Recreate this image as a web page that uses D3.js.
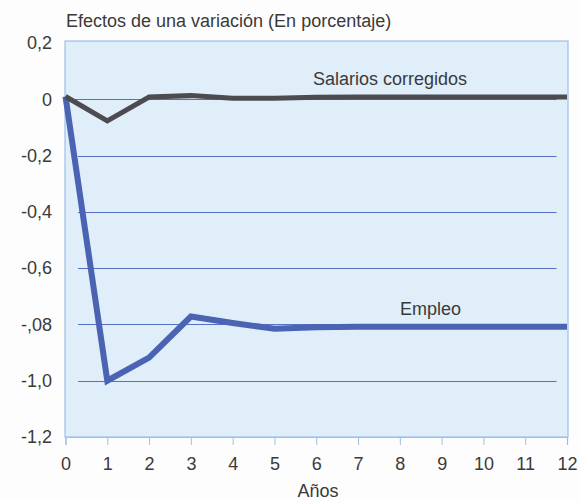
<!DOCTYPE html>
<html><head><meta charset="utf-8">
<script src="https://cdn.jsdelivr.net/npm/d3@7"></script>
<style>body{margin:0;background:#fdfdfd;} text{font-family:"Liberation Sans",Arial,sans-serif;fill:#3a3a3a;}</style>
</head><body><svg id="c" width="580" height="501"></svg>
<script>
const years = [0,1,2,3,4,5,6,7,8,9,10,11,12];
const salarios = [0.01,-0.077,0.008,0.013,0.004,0.004,0.007,0.008,0.008,0.008,0.008,0.008,0.008];
const empleo = [0.01,-1.0,-0.918,-0.772,-0.795,-0.815,-0.81,-0.808,-0.808,-0.808,-0.808,-0.808,-0.808];
const yTicks = [0.2,0,-0.2,-0.4,-0.6,-0.8,-1.0,-1.2];
const yTickLabels = ["0,2","0","-0,2","-0,4","-0,6","-,08","-1,0","-1,2"];
const gridVals = [0,-0.2,-0.4,-0.6,-0.8,-1.0];
const title = "Efectos de una variación (En porcentaje)";
const xTitle = "Años";

const svg = d3.select("#c");
const L=65,R=568,T=41,B=437;
const x = d3.scaleLinear().domain([0,12]).range([L+0.5,R-1]);
const y = d3.scaleLinear().domain([-1.2,0.2]).range([B,43]);

svg.append("rect").attr("x",L).attr("y",T).attr("width",R-L).attr("height",B-T)
  .attr("fill","#e0eefa").attr("stroke","#9cc0ea").attr("stroke-width",1.2);

// gridlines
svg.append("g").selectAll("line").data(gridVals).join("line")
  .attr("x1",d=>d===0?x(0.05):x(0.3)).attr("x2",x(11.75))
  .attr("y1",d=>Math.round(y(d))+0.5).attr("y2",d=>Math.round(y(d))+0.5)
  .attr("stroke","#5870c2").attr("stroke-width",1.1);

// x axis
const xa = svg.append("g").attr("transform",`translate(0,${B})`)
  .call(d3.axisBottom(x).tickValues(years).tickSize(8).tickPadding(12).tickFormat(d=>d));
xa.select(".domain").attr("stroke","#9cc0ea").attr("stroke-width",1.2);
xa.selectAll(".tick line").attr("stroke","#9cc0ea");
xa.selectAll(".tick text").style("font-size","18px").attr("fill","#3a3a3a");

// y axis labels
const ya = svg.append("g").attr("transform",`translate(${L},0)`)
  .call(d3.axisLeft(y).tickValues(yTicks).tickSize(0).tickPadding(13).tickFormat((d,i)=>yTickLabels[i]));
ya.select(".domain").remove();
ya.selectAll(".tick text").style("font-size","18px").attr("fill","#3a3a3a");

const line = d3.line().x((d,i)=>x(years[i])).y(d=>y(d));
svg.append("path").datum(empleo).attr("d",line).attr("fill","none")
  .attr("stroke","#4a63b3").attr("stroke-width",6).attr("stroke-linejoin","miter");
svg.append("path").datum(salarios).attr("d",line).attr("fill","none")
  .attr("stroke","#4b4b50").attr("stroke-width",5).attr("stroke-linejoin","miter");

svg.append("text").attr("x",66).attr("y",27).style("font-size","18px").text(title);
svg.append("text").attr("x",318).attr("y",497).attr("text-anchor","middle").style("font-size","18px").text(xTitle);
svg.append("text").attr("x",313).attr("y",85).style("font-size","18px").text("Salarios corregidos");
svg.append("text").attr("x",400).attr("y",315).style("font-size","18px").text("Empleo");
</script></body></html>
